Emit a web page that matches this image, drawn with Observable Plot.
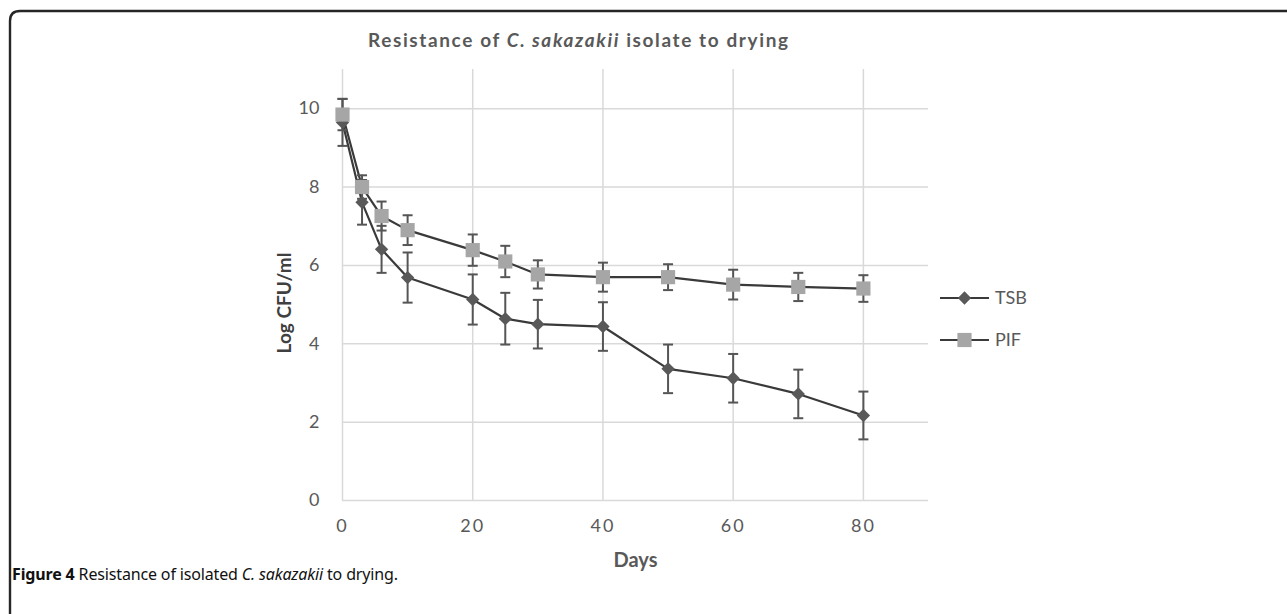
<!DOCTYPE html>
<html>
<head>
<meta charset="utf-8">
<script src="https://cdn.jsdelivr.net/npm/d3@7"></script>
<script src="https://cdn.jsdelivr.net/npm/@observablehq/plot@0.6"></script>
<style>
  html, body { margin: 0; padding: 0; background: #fff; }
  #wrap { position: relative; width: 1287px; height: 614px; overflow: hidden; }
  #wrap svg { display: block; }
</style>
</head>
<body>
<div id="wrap"></div>
<script>
// ---- data ----
const days    = [0, 3, 6, 10, 20, 25, 30, 40, 50, 60, 70, 80];
const tsb     = [9.65, 7.61, 6.41, 5.69, 5.13, 4.64, 4.50, 4.44, 3.36, 3.12, 2.72, 2.17];
const tsbErr  = [0.60, 0.57, 0.60, 0.64, 0.64, 0.66, 0.62, 0.62, 0.62, 0.62, 0.62, 0.61];
const pif     = [9.85, 8.00, 7.26, 6.90, 6.39, 6.10, 5.77, 5.70, 5.70, 5.51, 5.45, 5.41];
const pifErr  = [0.40, 0.30, 0.37, 0.38, 0.40, 0.40, 0.36, 0.37, 0.33, 0.38, 0.36, 0.34];
const seriesNames = ["TSB", "PIF"];
const xTicks = [0, 20, 40, 60, 80];
const yTicks = [0, 2, 4, 6, 8, 10];
const titleText = ["Resistance of ", "C. sakazakii", " isolate to drying"];
const xLabel = "Days";
const yLabel = "Log CFU/ml";
const captionText = ["Figure 4", " Resistance of isolated ", "C. sakazakii", " to drying."];

// ---- table built from the arrays ----
const rows = days.flatMap((d, i) => [
  {series: "TSB", day: d, v: tsb[i], e: tsbErr[i]},
  {series: "PIF", day: d, v: pif[i], e: pifErr[i]}
]);

const FONT = "Lato, 'Open Sans', 'DejaVu Sans', sans-serif";
const GRID = "#d9d9d9";
const TXT = "#595959";
const LINE = "#3a3a3a";
const fillOf = {TSB: "#595959", PIF: "#a6a6a6"};
const symOf = {TSB: "diamond2", PIF: "square"};
const rOf = {TSB: 6, PIF: 8};

// horizontal error-bar cap symbol
const capSymbol = {
  draw(ctx, size) {
    const w = Math.sqrt(size / Math.PI);
    ctx.moveTo(-w, 0);
    ctx.lineTo(w, 0);
  }
};

const chart = Plot.plot({
  width: 1287,
  height: 614,
  marginLeft: 342,
  marginRight: 359,
  marginTop: 69,
  marginBottom: 114,
  style: {fontFamily: FONT, background: "transparent", overflow: "visible"},
  x: {domain: [0, 90]},
  y: {domain: [0, 11]},
  marks: [
    Plot.gridX(xTicks, {stroke: GRID, strokeOpacity: 1, strokeWidth: 1.5}),
    Plot.gridY(yTicks, {stroke: GRID, strokeOpacity: 1, strokeWidth: 1.5}),
    Plot.axisX(xTicks, {tickSize: 0, tickPadding: 19, fontSize: 18, fill: TXT, label: null}),
    Plot.axisY(yTicks, {tickSize: 0, tickPadding: 23, fontSize: 18, fill: TXT, label: null}),
    Plot.line(rows, {x: "day", y: "v", z: "series", stroke: LINE, strokeWidth: 2.2}),
    Plot.ruleX(rows, {x: "day", y1: d => d.v - d.e, y2: d => d.v + d.e, stroke: "#555", strokeWidth: 2}),
    Plot.dot(rows, {x: "day", y: d => d.v + d.e, symbol: capSymbol, r: 5, stroke: "#555", strokeWidth: 2, fill: "none"}),
    Plot.dot(rows, {x: "day", y: d => d.v - d.e, symbol: capSymbol, r: 5, stroke: "#555", strokeWidth: 2, fill: "none"}),
    Plot.dot(rows.filter(d => d.series === "TSB"), {x: "day", y: "v", symbol: symOf.TSB, r: rOf.TSB, fill: fillOf.TSB, stroke: "none"}),
    Plot.dot(rows.filter(d => d.series === "PIF"), {x: "day", y: "v", symbol: symOf.PIF, r: rOf.PIF, fill: fillOf.PIF, stroke: "none"}),
    Plot.text([xLabel], {frameAnchor: "bottom", dy: 60, fontSize: 20, fontWeight: "bold", fill: TXT, lineAnchor: "middle"}),
    Plot.text([yLabel], {frameAnchor: "left", textAnchor: "middle", dx: -58, dy: 18, rotate: -90, fontSize: 19, fontWeight: "bold", fill: "#404040", lineAnchor: "middle"})
  ]
});

document.getElementById("wrap").appendChild(chart);

const svg = d3.select(chart);

// letter-spaced x tick labels, as in the reference
svg.selectAll('g[aria-label="x-axis tick label"] text').attr("letter-spacing", "2px");

// figure frame (rounded top-left corner, open to the right and bottom)
svg.append("path")
  .attr("d", "M10,640 L10,21 Q10,11 20,11 L1300,11")
  .attr("fill", "none").attr("stroke", "#262626").attr("stroke-width", 2.4);

// title
const title = svg.append("text")
  .attr("x", 368).attr("y", 47)
  .attr("text-anchor", "start")
  .attr("textLength", 420).attr("lengthAdjust", "spacing")
  .attr("font-family", FONT).attr("font-size", 19).attr("font-weight", "bold")
  .attr("fill", TXT);
titleText.forEach((t, i) => title.append("tspan").attr("font-style", i === 1 ? "italic" : null).text(t));

// legend
const sym = {diamond2: d3.symbolDiamond2, square: d3.symbolSquare};
const leg = svg.append("g").attr("font-family", FONT);
seriesNames.forEach((s, i) => {
  const y = 298 + i * 42;
  leg.append("line").attr("x1", 940).attr("x2", 989).attr("y1", y).attr("y2", y)
    .attr("stroke", LINE).attr("stroke-width", 2.2);
  leg.append("path")
    .attr("transform", `translate(964.5,${y})`)
    .attr("d", d3.symbol(sym[symOf[s]], rOf[s] * rOf[s] * Math.PI)())
    .attr("fill", fillOf[s]);
  leg.append("text").attr("x", 995).attr("y", y).attr("dy", "0.36em")
    .attr("text-anchor", "start")
    .attr("font-size", 18).attr("fill", TXT).text(s);
});

// caption
const cap = svg.append("text")
  .attr("x", 12).attr("y", 580)
  .attr("text-anchor", "start")
  .attr("textLength", 386).attr("lengthAdjust", "spacing")
  .attr("font-family", "'Liberation Sans Narrow', 'Noto Sans', Lato, sans-serif").attr("font-size", 16).attr("fill", "#111");
captionText.forEach((t, i) => cap.append("tspan")
  .attr("font-weight", i === 0 ? "bold" : null)
  .attr("font-style", i === 2 ? "italic" : null)
  .text(t));
</script>
</body>
</html>
